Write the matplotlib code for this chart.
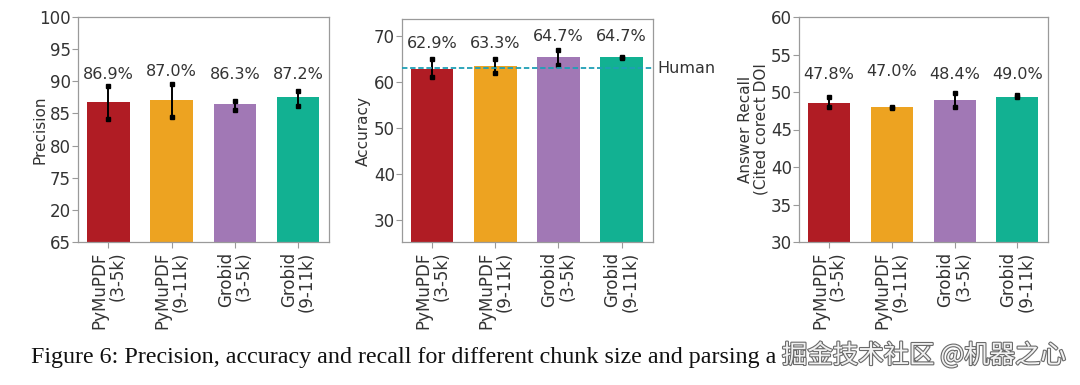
import matplotlib
matplotlib.use("Agg")
import matplotlib.pyplot as plt
import matplotlib.patheffects as pe
import numpy as np

# ---- data ----
categories = ["PyMuPDF\n(3-5k)", "PyMuPDF\n(9-11k)", "Grobid\n(3-5k)", "Grobid\n(9-11k)"]
colors = ["#b01c24", "#eda321", "#a178b5", "#12b192"]

precision_bars = [86.8, 87.1, 86.4, 87.5]
precision_lo = [84.2, 84.5, 85.6, 86.2]
precision_hi = [89.2, 89.6, 87.0, 88.5]
precision_labels = ["86.9%", "87.0%", "86.3%", "87.2%"]

accuracy_bars = [62.8, 63.4, 65.3, 65.3]
accuracy_lo = [61.0, 61.8, 63.6, 65.2]
accuracy_hi = [65.0, 65.0, 66.8, 65.4]
accuracy_labels = ["62.9%", "63.3%", "64.7%", "64.7%"]
human_accuracy = 62.9

recall_bars = [48.6, 47.95, 48.9, 49.4]
recall_lo = [48.0, 47.92, 47.95, 49.3]
recall_hi = [49.3, 48.02, 49.9, 49.55]
recall_labels = ["47.8%", "47.0%", "48.4%", "49.0%"]

precision_ticks = [65, 70, 75, 80, 85, 90, 95, 100]
precision_ticklabels = ["65", "20", "75", "80", "85", "90", "95", "100"]
accuracy_ticks = [30, 40, 50, 60, 70]
recall_ticks = [30, 35, 40, 45, 50, 55, 60]

# layout-only positions for the value labels
precision_label_y = [91.1, 91.5, 91.1, 91.1]
accuracy_label_y = [68.3, 68.3, 69.9, 69.9]
recall_label_y = [52.3, 52.7, 52.3, 52.3]

FONT = "DejaVu Sans"
plt.rcParams["font.family"] = [FONT]
SPINE = "#9a9a9a"
TXT = "#333333"

fig = plt.figure(figsize=(10.8, 3.85), dpi=100)
ax1 = fig.add_axes([78 / 1080, 143 / 385, 251 / 1080, 225 / 385])
ax2 = fig.add_axes([402 / 1080, 143 / 385, 250.5 / 1080, 223 / 385])
ax3 = fig.add_axes([799 / 1080, 143 / 385, 249 / 1080, 225 / 385])


def draw(ax, bars, lo, hi, labels, label_y, ylim, ticks, ticklabels, ylabel):
    x = np.arange(len(categories))
    ax.bar(x, [b - ylim[0] for b in bars], bottom=ylim[0], width=0.67,
           color=colors, edgecolor="none", zorder=2)
    ax.vlines(x, lo, hi, color="black", lw=1.4, zorder=3)
    ax.plot(x, lo, "s", color="black", ms=3.5, zorder=4, ls="none")
    ax.plot(x, hi, "s", color="black", ms=3.5, zorder=4, ls="none")
    for xi, t, yy in zip(x, labels, label_y):
        ax.text(xi, yy, t, ha="center", va="center", fontsize=11.5, color=TXT)
    ax.set_xlim(-0.48, 3.49)
    ax.set_ylim(*ylim)
    ax.set_yticks(ticks)
    ax.set_yticklabels(ticklabels if ticklabels else [str(t) for t in ticks])
    ax.set_xticks(x)
    ax.set_xticklabels(categories, rotation=90, ha="center", va="top",
                       multialignment="right", fontsize=12, color=TXT,
                       linespacing=1.0)
    ax.tick_params(axis="y", labelsize=12, colors=SPINE, labelcolor=TXT,
                   length=4, width=0.8, pad=1)
    ax.tick_params(axis="x", colors=SPINE, labelcolor=TXT, length=4,
                   width=0.8, pad=3)
    for s in ax.spines.values():
        s.set_color(SPINE)
        s.set_linewidth(0.9)
    ax.set_ylabel(ylabel, fontsize=11, color=TXT, linespacing=1.0)
    ax.yaxis.set_label_coords(-0.123, 0.5)


draw(ax1, precision_bars, precision_lo, precision_hi, precision_labels,
     precision_label_y, (65, 100), precision_ticks, precision_ticklabels,
     "Precision")
draw(ax2, accuracy_bars, accuracy_lo, accuracy_hi, accuracy_labels,
     accuracy_label_y, (25.2, 73.6), accuracy_ticks, None, "Accuracy")
draw(ax3, recall_bars, recall_lo, recall_hi, recall_labels,
     recall_label_y, (30, 60), recall_ticks, None,
     "Answer Recall\n(Cited corect DOI")

ax2.axhline(human_accuracy, color="#1f9fb5", lw=1.3, ls=(0, (3, 1.5)), zorder=5)
ax2.text(1.021, human_accuracy, "Human", transform=ax2.get_yaxis_transform(),
         ha="left", va="center", fontsize=11.5, color=TXT)

fig.text(31 / 1080, 22 / 385,
         "Figure 6: Precision, accuracy and recall for different chunk size and parsing a",
         fontsize=17.3, family="Liberation Serif", color="#111111", ha="left",
         va="baseline")
fig.text(782 / 1080, 22 / 385, "掘金技术社区 @机器之心", fontsize=18.3,
         family=["Noto Sans CJK SC", "DejaVu Sans"], color="#f2f2f2",
         ha="left", va="baseline",
         path_effects=[pe.withStroke(linewidth=1.6, foreground="#6a6a6a")])

fig.savefig("out.png", dpi=100)
